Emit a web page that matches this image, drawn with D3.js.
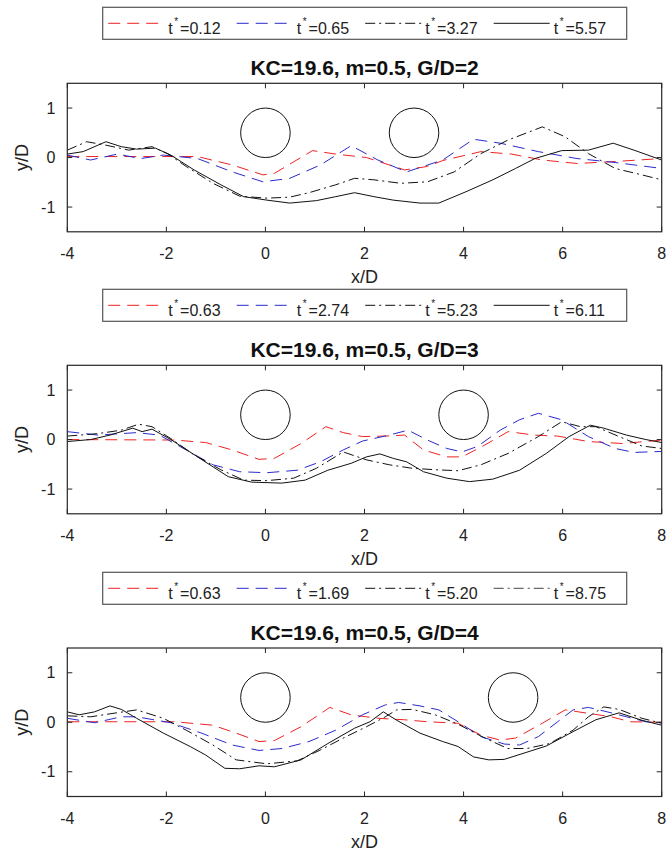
<!DOCTYPE html>
<html>
<head>
<meta charset="utf-8">
<script src="https://cdn.jsdelivr.net/npm/d3@7"></script>
<style>
  html, body { margin: 0; padding: 0; background: #fff; }
  svg { display: block; font-family: "Liberation Sans", Arial, sans-serif; }
</style>
</head>
<body>
<svg id="chart" width="666" height="851"></svg>
<script>
// Free-surface / bed profiles y/D along x/D for three gap ratios
const xTicks = [-4, -2, 0, 2, 4, 6, 8];
const xTickLabels = ["-4", "-2", "0", "2", "4", "6", "8"];
const yTicks = [-1, 0, 1];
const yTickLabels = ["-1", "0", "1"];

const panelTitles = ["KC=19.6, m=0.5, G/D=2", "KC=19.6, m=0.5, G/D=3", "KC=19.6, m=0.5, G/D=4"];
const cylinderX = [[0, 3], [0, 4], [0, 5]];
const cylinderY = 0.5;
const cylinderR = 0.5;

const legendTimes = [
  ["0.12", "0.65", "3.27", "5.57"],
  ["0.63", "2.74", "5.23", "6.11"],
  ["0.63", "1.69", "5.20", "8.75"]
];

// G/D = 2
const g2_t012 = [[-4,0.02],[-2.5,0.02],[-1.37,0.02],[-0.67,-0.15],[-0.05,-0.35],[0.18,-0.32],[0.95,0.14],[1.42,0.07],[2.04,0.0],[2.81,-0.25],[3.27,-0.18],[3.58,-0.06],[4.35,0.12],[4.97,0.07],[5.59,-0.05],[6.29,-0.12],[7.06,-0.08],[8,-0.02]];
const g2_t065 = [[-4,0.05],[-3.53,-0.05],[-2.99,0.07],[-2.52,-0.02],[-2.06,0.05],[-1.37,-0.02],[-0.67,-0.29],[-0.05,-0.49],[0.49,-0.42],[1.11,-0.15],[1.73,0.24],[2.27,-0.05],[2.85,-0.29],[3.58,-0.05],[4.2,0.37],[4.74,0.29],[5.51,0.12],[6.29,-0.02],[7.06,-0.1],[8,-0.22]];
const g2_t327 = [[-4,0.15],[-3.61,0.32],[-3.22,0.25],[-2.76,0.15],[-2.29,0.22],[-1.98,0.08],[-1.6,-0.18],[-1.06,-0.52],[-0.52,-0.78],[0.03,-0.82],[0.49,-0.8],[0.88,-0.71],[1.42,-0.55],[1.8,-0.42],[2.19,-0.45],[2.73,-0.52],[3.27,-0.49],[3.81,-0.29],[4.35,0.08],[4.89,0.35],[5.59,0.62],[6.05,0.42],[6.52,0.08],[7.06,-0.22],[7.6,-0.35],[8,-0.45]];
const g2_t557 = [[-4,0.07],[-3.68,0.12],[-3.22,0.32],[-2.91,0.22],[-2.6,0.17],[-2.22,0.19],[-1.91,0.05],[-1.44,-0.25],[-0.9,-0.55],[-0.44,-0.79],[0.03,-0.86],[0.49,-0.92],[1.03,-0.87],[1.42,-0.79],[1.8,-0.71],[2.19,-0.79],[2.58,-0.86],[3.12,-0.92],[3.5,-0.92],[4.05,-0.69],[4.59,-0.45],[5.05,-0.22],[5.44,-0.02],[5.98,0.14],[6.52,0.15],[7.02,0.29],[7.44,0.15],[8,-0.05]];

// G/D = 3
const g3_t063 = [[-4,0.0],[-1.83,-0.01],[-1.21,-0.06],[-0.67,-0.21],[-0.13,-0.4],[0.18,-0.38],[0.72,-0.08],[1.22,0.26],[1.57,0.14],[1.96,0.06],[2.42,0.07],[2.81,0.09],[3.19,-0.21],[3.66,-0.35],[3.97,-0.35],[4.43,-0.11],[4.9,0.16],[5.43,0.09],[5.9,0.07],[6.52,-0.04],[7.21,-0.08],[8,-0.01]];
const g3_t274 = [[-4,0.16],[-3.38,0.09],[-2.6,0.14],[-2.14,0.09],[-1.6,-0.21],[-1.06,-0.51],[-0.52,-0.65],[0.03,-0.67],[0.64,-0.62],[1.11,-0.45],[1.57,-0.21],[1.96,-0.03],[2.5,0.09],[2.88,0.19],[3.27,-0.01],[3.66,-0.18],[3.97,-0.25],[4.28,-0.14],[4.74,0.19],[5.13,0.4],[5.51,0.53],[5.98,0.4],[6.52,0.06],[7.06,-0.18],[7.44,-0.26],[8,-0.24]];
const g3_t523 = [[-4,0.07],[-3.38,0.12],[-2.91,0.19],[-2.56,0.31],[-2.29,0.26],[-1.91,0.02],[-1.44,-0.31],[-0.9,-0.61],[-0.44,-0.82],[0.03,-0.83],[0.57,-0.78],[1.03,-0.58],[1.57,-0.25],[2.04,-0.41],[2.5,-0.51],[2.96,-0.58],[3.43,-0.61],[3.89,-0.63],[4.35,-0.51],[4.9,-0.28],[5.51,0.06],[5.98,0.36],[6.36,0.26],[6.67,0.26],[7.14,0.06],[7.6,-0.13],[8,-0.18]];
const g3_t611 = [[-4,-0.04],[-3.53,0.0],[-3.14,0.09],[-2.68,0.23],[-2.49,0.16],[-2.29,0.21],[-1.91,0.0],[-1.37,-0.35],[-0.75,-0.75],[-0.28,-0.86],[0.33,-0.88],[0.8,-0.82],[1.26,-0.62],[1.73,-0.48],[2.04,-0.35],[2.31,-0.29],[2.58,-0.38],[2.85,-0.45],[3.19,-0.65],[3.66,-0.78],[4.12,-0.85],[4.59,-0.8],[5.13,-0.62],[5.67,-0.28],[6.13,0.06],[6.56,0.29],[6.83,0.23],[7.29,0.09],[7.68,0.0],[8,-0.06]];

// G/D = 4
const g4_t063 = [[-4,0.01],[-1.83,0.01],[-1.06,-0.06],[-0.59,-0.22],[-0.13,-0.39],[0.18,-0.37],[0.72,-0.09],[1.3,0.3],[1.73,0.15],[2.27,0.08],[2.81,0.05],[3.27,0.01],[3.89,-0.02],[4.35,-0.26],[4.74,-0.36],[5.05,-0.32],[5.59,-0.02],[6.05,0.25],[6.52,0.18],[6.98,0.11],[7.37,0.01],[8,0.0]];
const g4_t169 = [[-4,0.08],[-3.45,-0.01],[-2.91,0.11],[-2.6,0.11],[-1.91,-0.01],[-1.29,-0.22],[-0.67,-0.46],[-0.13,-0.57],[0.34,-0.53],[0.88,-0.39],[1.42,-0.16],[1.96,0.15],[2.42,0.35],[2.69,0.4],[3.12,0.33],[3.5,0.25],[3.89,0.01],[4.35,-0.29],[4.82,-0.44],[5.13,-0.46],[5.51,-0.29],[5.9,0.01],[6.21,0.25],[6.52,0.3],[6.9,0.21],[7.29,0.11],[7.68,0.01],[8,-0.01]];
const g4_t520 = [[-4,0.13],[-3.53,0.11],[-3.14,0.17],[-2.6,0.25],[-2.06,0.08],[-1.6,-0.16],[-1.06,-0.46],[-0.59,-0.76],[0.03,-0.84],[0.64,-0.78],[1.11,-0.56],[1.57,-0.32],[2.04,-0.09],[2.42,0.11],[2.65,0.25],[2.96,0.26],[3.43,0.15],[3.89,-0.04],[4.43,-0.32],[4.89,-0.53],[5.28,-0.53],[5.74,-0.43],[6.21,-0.16],[6.52,0.11],[6.83,0.31],[7.14,0.26],[7.6,0.08],[8,-0.02]];
const g4_t875 = [[-4,0.21],[-3.76,0.15],[-3.45,0.21],[-3.14,0.33],[-2.91,0.26],[-2.6,0.08],[-2.06,-0.22],[-1.52,-0.49],[-1.21,-0.66],[-0.82,-0.93],[-0.52,-0.94],[-0.13,-0.88],[0.18,-0.9],[0.72,-0.76],[1.26,-0.43],[1.8,-0.12],[2.11,0.01],[2.38,0.21],[2.65,0.04],[3.12,-0.22],[3.58,-0.39],[3.89,-0.49],[4.2,-0.7],[4.51,-0.76],[4.82,-0.75],[5.2,-0.63],[5.67,-0.48],[6.21,-0.19],[6.67,0.05],[7.14,0.19],[7.6,0.04],[8,-0.06]];

const panelSeries = [
  [g2_t012, g2_t065, g2_t327, g2_t557],
  [g3_t063, g3_t274, g3_t523, g3_t611],
  [g4_t063, g4_t169, g4_t520, g4_t875]
];

// Line styles per series slot
const DASH = "12,7";
const DASHDOT = "10,4,2,4";
const baseStyles = [{c: "#ee2222", d: DASH}, {c: "#2a2acc", d: DASH}, {c: "#111", d: DASHDOT}, {c: "#111", d: null}];
const lineStyles = [baseStyles, baseStyles, baseStyles];
const legendStyles = [
  baseStyles,
  baseStyles,
  [baseStyles[0], baseStyles[1], baseStyles[2], {c: "#444", d: DASHDOT}]
];

// Layout
const plotLeft = 67.3, plotRight = 661.7, plotH = 148.5;
const plotTops = [83.3, 365.3, 648];
const legendTops = [7.3, 289.3, 572.3];
const legendLeft = 102.7, legendW = 524, legendH = 32;

const svg = d3.select("#chart");
const x = d3.scaleLinear().domain([-4, 8]).range([plotLeft, plotRight]);

panelSeries.forEach((series, p) => {
  const top = plotTops[p];
  const bottom = top + plotH;
  const y = d3.scaleLinear().domain([-1.5, 1.5]).range([bottom, top]);
  const g = svg.append("g");

  // legend
  const lg = g.append("g").attr("transform", `translate(${legendLeft},${legendTops[p]})`);
  lg.append("rect").attr("x", 0).attr("y", 0).attr("width", legendW).attr("height", legendH)
    .attr("fill", "#fff").attr("stroke", "#555").attr("stroke-width", 1.2);
  legendTimes[p].forEach((t, i) => {
    const x0 = 5.5 + i * 128.5;
    const st = legendStyles[p][i];
    lg.append("line").attr("x1", x0).attr("x2", x0 + 56).attr("y1", 16).attr("y2", 16)
      .attr("stroke", st.c).attr("stroke-width", 1)
      .attr("stroke-dasharray", st.d);
    const tx = lg.append("text").attr("x", x0 + 60).attr("y", 27)
      .attr("font-size", 16).attr("fill", "#222");
    tx.append("tspan").text("t");
    tx.append("tspan").attr("dx", 1.5).attr("dy", -9).attr("font-size", 10).text("*");
    tx.append("tspan").attr("dx", 2).attr("dy", 9).text("=" + t);
  });

  // title
  g.append("text").attr("x", (plotLeft + plotRight) / 2).attr("y", top - 8)
    .attr("text-anchor", "middle").attr("font-size", 21).attr("font-weight", "bold")
    .attr("fill", "#111").text(panelTitles[p]);

  // clip
  const clipId = "clip" + p;
  svg.append("clipPath").attr("id", clipId).append("rect")
    .attr("x", plotLeft).attr("y", top).attr("width", plotRight - plotLeft).attr("height", plotH);

  // cylinders
  cylinderX[p].forEach(cx => {
    g.append("ellipse")
      .attr("cx", x(cx)).attr("cy", y(cylinderY))
      .attr("rx", x(cylinderR) - x(0)).attr("ry", y(0) - y(cylinderR))
      .attr("fill", "none").attr("stroke", "#111").attr("stroke-width", 1);
  });

  // profiles
  const line = d3.line().x(d => x(d[0])).y(d => y(d[1]));
  const lines = g.append("g").attr("clip-path", `url(#${clipId})`);
  series.forEach((s, i) => {
    const st = lineStyles[p][i];
    lines.append("path").attr("d", line(s)).attr("fill", "none")
      .attr("stroke", st.c).attr("stroke-width", 1)
      .attr("stroke-dasharray", st.d).attr("stroke-linejoin", "round");
  });

  // axes box with inward ticks on all sides
  const axisColor = "#262626";
  const tickLen = 5;
  const axes = g.append("g");
  xTicks.forEach(v => {
    axes.append("line").attr("x1", x(v)).attr("x2", x(v)).attr("y1", bottom).attr("y2", bottom - tickLen)
      .attr("stroke", axisColor);
    axes.append("line").attr("x1", x(v)).attr("x2", x(v)).attr("y1", top).attr("y2", top + tickLen)
      .attr("stroke", axisColor);
  });
  yTicks.forEach(v => {
    axes.append("line").attr("x1", plotLeft).attr("x2", plotLeft + tickLen).attr("y1", y(v)).attr("y2", y(v))
      .attr("stroke", axisColor);
    axes.append("line").attr("x1", plotRight).attr("x2", plotRight - tickLen).attr("y1", y(v)).attr("y2", y(v))
      .attr("stroke", axisColor);
  });
  axes.append("rect").attr("x", plotLeft).attr("y", top).attr("width", plotRight - plotLeft).attr("height", plotH)
    .attr("fill", "none").attr("stroke", axisColor).attr("stroke-width", 1.2);

  // tick labels
  xTicks.forEach((v, i) => {
    g.append("text").attr("x", x(v)).attr("y", bottom + 27).attr("text-anchor", "middle")
      .attr("font-size", 16).attr("fill", "#222").text(xTickLabels[i]);
  });
  yTicks.forEach((v, i) => {
    g.append("text").attr("x", plotLeft - 12).attr("y", y(v)).attr("dy", "0.35em").attr("text-anchor", "end")
      .attr("font-size", 16).attr("fill", "#222").text(yTickLabels[i]);
  });

  // axis labels
  g.append("text").attr("x", (plotLeft + plotRight) / 2).attr("y", bottom + 51)
    .attr("text-anchor", "middle").attr("font-size", 18).attr("fill", "#222").text("x/D");
  g.append("text").attr("transform", `translate(28,${(top + bottom) / 2}) rotate(-90)`)
    .attr("text-anchor", "middle").attr("font-size", 18).attr("fill", "#222").text("y/D");
});
</script>
</body>
</html>
